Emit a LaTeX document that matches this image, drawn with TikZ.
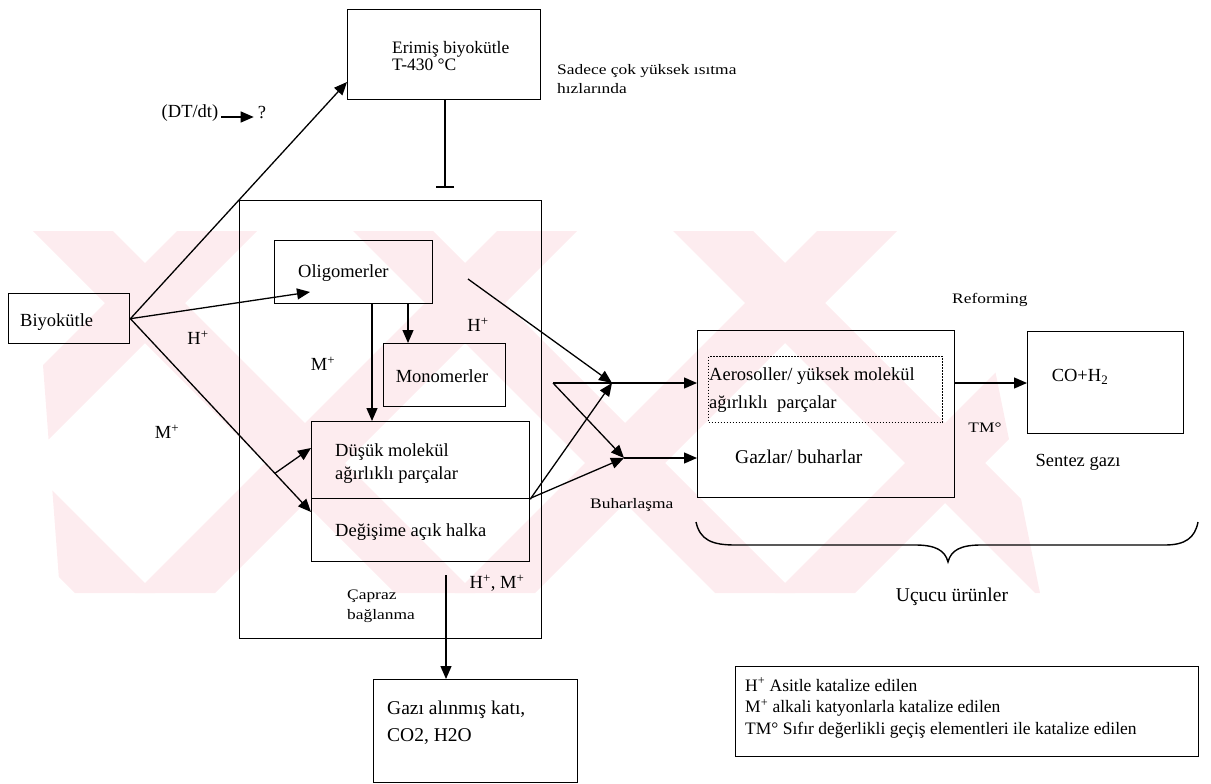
\documentclass[tikz,border=0pt]{standalone}
\usepackage{fontspec}
\setmainfont{Liberation Serif}
\newfontfamily\smallfnt[FakeStretch=1.2]{Liberation Serif}
\usetikzlibrary{arrows.meta,calc}
\newcommand{\mainf}{\fontsize{18.5}{21.5}\selectfont}
\newcommand{\smallf}{\smallfnt\fontsize{14.5}{19}\selectfont}
\definecolor{wmpink}{RGB}{253,236,239}
\tikzset{
  box/.style={draw, line width=1.4pt, inner sep=0pt, anchor=north west},
  dotbox/.style={draw, line width=1pt, dash pattern=on 1.5pt off 1.5pt, inner sep=0pt, anchor=north west},
  lbl/.style={inner sep=0pt, font=\mainf, align=left},
  slbl/.style={inner sep=0pt, font=\smallf, align=left},
  arr/.style={line width=1.3pt, -{Triangle[length=13pt,width=11pt]}},
  barend/.style={line width=1.4pt, -{Bar[width=18pt,line width=2pt]}},
  conn/.style={line width=1.3pt},
}
\begin{document}
\begin{tikzpicture}[x=1pt,y=-1pt]
\useasboundingbox (0,0) rectangle (1211,784);
% watermark
\begin{scope}
\clip (33,231) -- (967,231) -- (1040,593) -- (60,593) -- cycle;
\foreach \k in {-2,...,3}{
  \fill[wmpink] ({33+320*\k},231) -- ({113+320*\k},231) -- ({475+320*\k},593) -- ({395+320*\k},593) -- cycle;
}
\foreach \k in {-1,...,4}{
  \fill[wmpink] ({177+320*\k},231) -- ({257+320*\k},231) -- ({-105+320*\k},593) -- ({-185+320*\k},593) -- cycle;
}
\end{scope}

% boxes
\node[box, minimum width=121, minimum height=50] (bio) at (8,293) {};
\node[box, minimum width=193, minimum height=90] (erim) at (347,9) {};
\node[box, minimum width=302, minimum height=438] (big) at (239,200) {};
\node[box, minimum width=158, minimum height=63] (olig) at (274,240) {};
\node[box, minimum width=122, minimum height=63] (mono) at (383,343) {};
\node[box, minimum width=218, minimum height=77] (dusuk) at (311,421) {};
\node[box, minimum width=218, minimum height=63] (degis) at (311,498) {};
\node[box, minimum width=257, minimum height=167] (gaz) at (697,330) {};
\node[dotbox, minimum width=234, minimum height=66] (aero) at (708,356) {};
\node[box, minimum width=156, minimum height=102] (co) at (1027,331) {};
\node[box, minimum width=204, minimum height=103] (gazi) at (373,679) {};
\node[box, minimum width=463, minimum height=90] (leg) at (735,666) {};

% texts
\node[lbl, anchor=west] (tbio) at (20,322) {Biyokütle};
\node[lbl, anchor=west, font=\fontsize{17.5}{17.5}\selectfont] (terim) at (392,56) {Erimiş biyokütle\\T-430 °C};
\node[slbl, anchor=west] (tsad) at (557,79) {Sadece çok yüksek ısıtma\\hızlarında};
\node[lbl] (tdt) at (190,113) {(DT/dt)};
\node[lbl] (tq) at (262,113) {?};
\node[lbl, anchor=west] (tolig) at (298,273) {Oligomerler};
\node[lbl] (tmono) at (442,376) {Monomerler};
\node[lbl, anchor=west, font=\fontsize{18.5}{23}\selectfont] (tdus) at (335,464) {Düşük molekül\\ağırlıklı parçalar};
\node[lbl, anchor=west] (tdeg) at (335,532) {Değişime açık halka};
\node[slbl, anchor=west, font=\smallf\fontsize{14.5}{20}\selectfont] (tcap) at (347,606) {Çapraz\\bağlanma};
\node[lbl] (thm) at (497,583) {H\textsuperscript{+}, M\textsuperscript{+}};
\node[lbl] (th1) at (198,338) {H\textsuperscript{+}};
\node[lbl] (tm1) at (167,432) {M\textsuperscript{+}};
\node[lbl] (tm2) at (323,364) {M\textsuperscript{+}};
\node[lbl] (th2) at (478,325) {H\textsuperscript{+}};
\node[slbl, anchor=west] (tbuh) at (590,505) {Buharlaşma};
\node[lbl, anchor=west, font=\fontsize{18.5}{28}\selectfont] (taero) at (709,390) {Aerosoller/ yüksek molekül\\ağırlıklı~ parçalar};
\node[lbl, anchor=west, font=\fontsize{19.5}{22}\selectfont] (tgaz) at (735,457) {Gazlar/ buharlar};
\node[slbl, anchor=west] (tref) at (952,300) {Reforming};
\node[slbl] (ttm) at (985,428) {TM°};
\node[lbl] (tco) at (1080,377) {CO+H\textsubscript{2}};
\node[lbl] (tsen) at (1078,462) {Sentez gazı};
\node[lbl, font=\fontsize{19.5}{22}\selectfont] (tucu) at (952,597) {Uçucu ürünler};
\node[lbl, anchor=west, font=\fontsize{19.5}{27}\selectfont] (tgazi) at (387,723) {Gazı alınmış katı,\\CO2, H2O};
\node[lbl, anchor=west, font=\fontsize{17.5}{21.5}\selectfont] (tleg) at (745,708) {H\textsuperscript{+} Asitle katalize edilen\\M\textsuperscript{+} alkali katyonlarla katalize edilen\\TM° Sıfır değerlikli geçiş elementleri ile katalize edilen};

% coordinates
\coordinate (erimtip) at (347,82);
\coordinate (oligtip) at (310,292);
\coordinate (degtip) at (311,512);
\coordinate (dutip) at (311,448);
\coordinate (xa) at (408,0);
\coordinate (xb) at (372,0);
\coordinate (xc) at (445,0);
\coordinate (s1) at (468,279);
\coordinate (s2) at (553,383);
\coordinate (U) at (612,383);
\coordinate (L) at (624,458);
\coordinate (O) at (531,498);
\coordinate (s3) at (446,575);

% connectors
\draw[arr] (tdt.east) ++(3,4) -- ($(tq.west)+(-4,4)$);
\draw[arr] (bio.east) -- (erimtip);
\draw[arr] (bio.east) -- (oligtip);
\draw[arr] (bio.east) -- (degtip);
\draw[arr] ($(bio.east)!0.8!(degtip)$) -- (dutip);
\draw[arr] (olig.south -| xa) -- (mono.north -| xa);
\draw[arr] (olig.south -| xb) -- (dusuk.north -| xb);
\draw[barend, shorten >=12pt] (erim.south -| xc) -- (big.north -| xc);
\draw[conn] (dusuk.south east) -- (O);
\draw[arr] (s1) -- (U);
\draw[arr] (s2) -- (gaz.west |- U);
\draw[arr] (s2) -- (L);
\draw[arr] (O) -- (U);
\draw[arr] (O) -- (L);
\draw[arr] (L) -- (gaz.west |- L);
\draw[arr] (gaz.east |- U) -- (co.west |- U);
\draw[arr] (s3) -- (gazi.north -| s3);

% brace
\draw[line width=1.4pt] (696,522) .. controls (700,540) and (712,545) .. (735,545) -- (915,545)
  .. controls (935,545) and (945,550) .. (948,562)
  .. controls (951,550) and (961,545) .. (981,545) -- (1165,545)
  .. controls (1185,545) and (1195,538) .. (1198,522);
\end{tikzpicture}
\end{document}
